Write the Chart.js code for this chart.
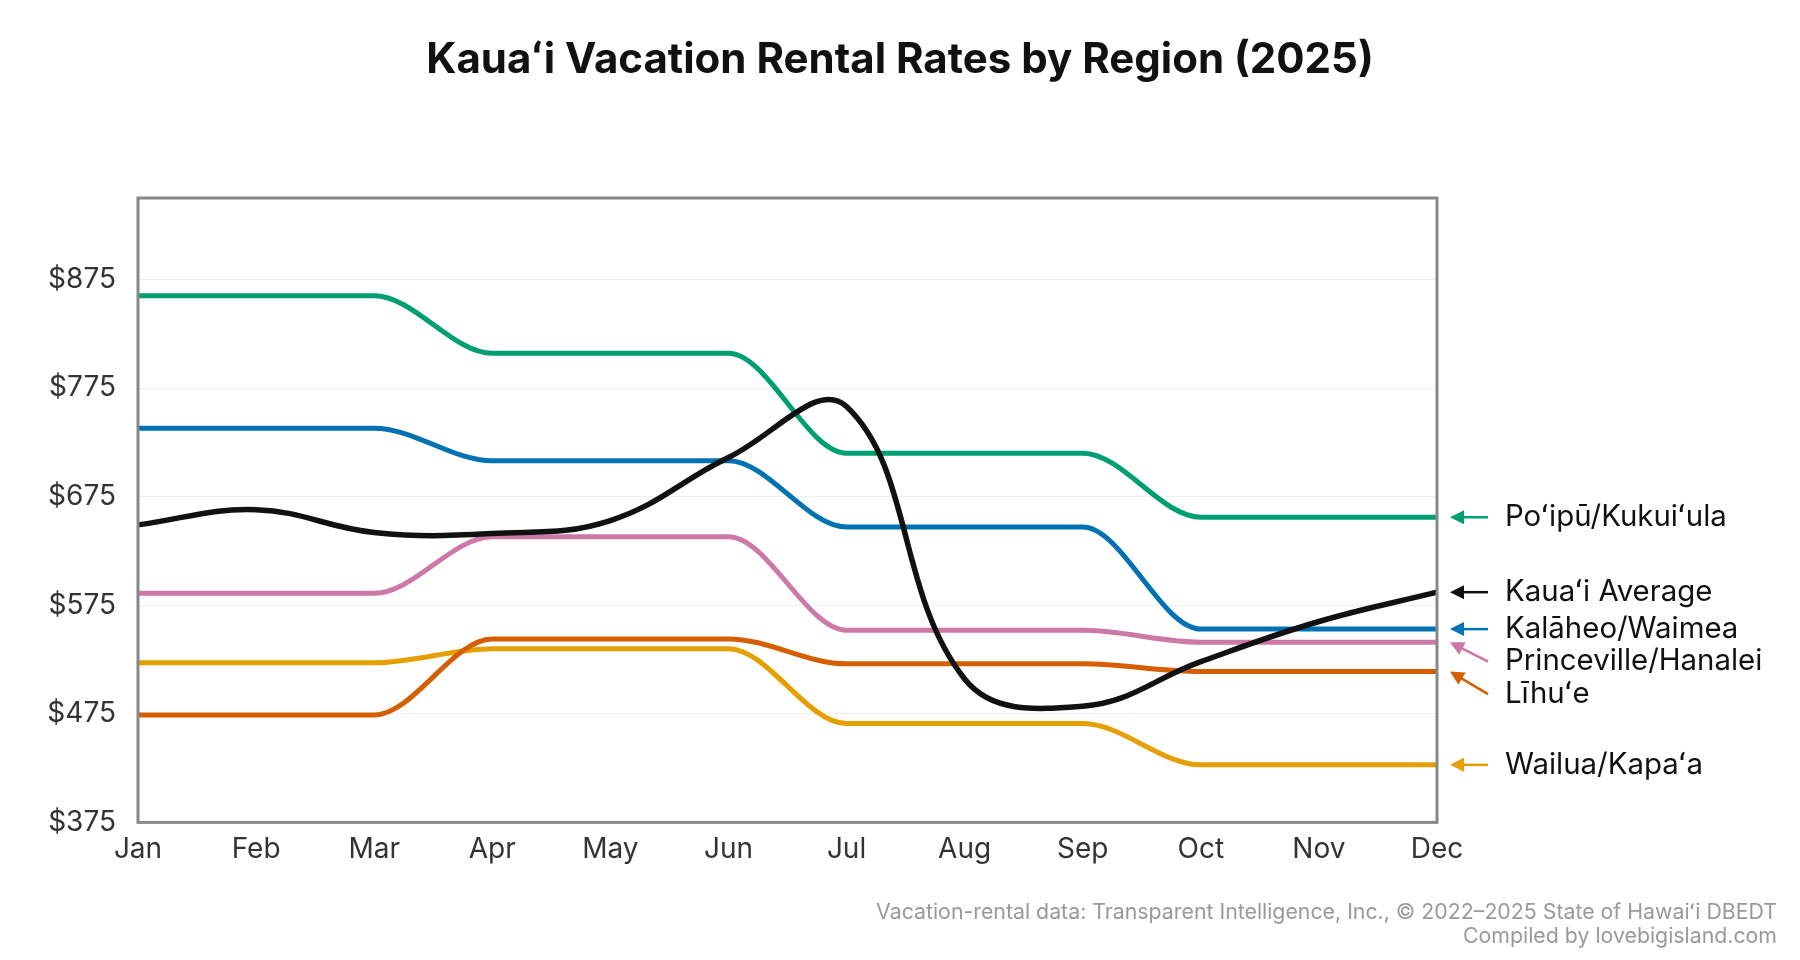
<!DOCTYPE html>
<html>
<head>
<meta charset="utf-8">
<script src="https://cdn.jsdelivr.net/npm/chart.js@4"></script>
<style>
  html, body { margin: 0; padding: 0; background: #fff; }
  #wrap { width: 1800px; height: 960px; }
</style>
</head>
<body>
<div id="wrap"><canvas id="rateChart" width="1800" height="960"></canvas></div>
<script>
const months = ['Jan', 'Feb', 'Mar', 'Apr', 'May', 'Jun', 'Jul', 'Aug', 'Sep', 'Oct', 'Nov', 'Dec'];
const yTicks = [375, 475, 575, 675, 775, 875];

const kauaiAverage = [649, 663, 642, 641, 653, 711, 758, 507, 482, 523, 560, 587];
const poipu       = [860, 860, 860, 807, 807, 807, 715, 715, 715, 656, 656, 656];
const kalaheo     = [738, 738, 738, 708, 708, 708, 647, 647, 647, 553, 553, 553];
const princeville = [586, 586, 586, 638, 638, 638, 552, 552, 552, 541, 541, 541];
const lihue       = [474, 474, 474, 544, 544, 544, 521, 521, 521, 514, 514, 514];
const wailua      = [522, 522, 522, 535, 535, 535, 466, 466, 466, 428, 428, 428];

const titleText = 'Kauaʻi Vacation Rental Rates by Region (2025)';
const footerLines = [
  'Vacation-rental data: Transparent Intelligence, Inc., © 2022–2025 State of Hawaiʻi DBEDT',
  'Compiled by lovebigisland.com'
];

Chart.defaults.font.family = 'Inter, "Noto Sans", sans-serif';

function series(label, data, color, avg) {
  return {
    label, data,
    borderColor: color,
    backgroundColor: color,
    borderWidth: avg ? 5.5 : 5,
    pointRadius: 0,
    pointHoverRadius: 0,
    fill: false,
    tension: 0.4,
    cubicInterpolationMode: avg ? 'default' : 'monotone'
  };
}

// title, footer, frame and the end-of-line labels with arrows
const decorPlugin = {
  id: 'decor',
  afterDraw(chart) {
    const { ctx, chartArea: a } = chart;
    const y = chart.scales.y;
    ctx.save();

    ctx.strokeStyle = '#888';
    ctx.lineWidth = 3;
    ctx.strokeRect(a.left, a.top, a.right - a.left, a.bottom - a.top);

    ctx.fillStyle = '#111';
    ctx.font = 'bold 42px Inter, sans-serif';
    ctx.textAlign = 'center';
    ctx.textBaseline = 'middle';
    ctx.fillText(titleText, chart.width / 2, 60);

    ctx.fillStyle = '#999';
    ctx.font = '21.3px Inter, sans-serif';
    ctx.textAlign = 'right';
    ctx.fillText(footerLines[0], chart.width - 23, 913);
    ctx.fillText(footerLines[1], chart.width - 23, 937);

    const items = chart.data.datasets.map(ds => {
      const py = y.getPixelForValue(ds.data[ds.data.length - 1]);
      return { label: ds.label, color: ds.borderColor, py, ly: py };
    }).sort((p, q) => p.py - q.py);
    for (let i = 1; i < items.length; i++) {
      items[i].ly = Math.max(items[i].py, items[i - 1].ly + 32.5);
    }

    ctx.font = '29.4px Inter, sans-serif';
    ctx.textAlign = 'left';
    items.forEach(it => {
      const tipX = a.right + 13, tailX = a.right + 51;
      const ang = Math.atan2(it.py - it.ly, tipX - tailX);
      ctx.strokeStyle = it.color;
      ctx.fillStyle = it.color;
      ctx.lineWidth = 2.5;
      ctx.beginPath();
      ctx.moveTo(tailX, it.ly);
      ctx.lineTo(tipX - 8 * Math.cos(ang), it.py - 8 * Math.sin(ang));
      ctx.stroke();
      ctx.beginPath();
      ctx.moveTo(tipX, it.py);
      ctx.lineTo(tipX - 14 * Math.cos(ang) - 7 * Math.sin(ang), it.py - 14 * Math.sin(ang) + 7 * Math.cos(ang));
      ctx.lineTo(tipX - 14 * Math.cos(ang) + 7 * Math.sin(ang), it.py - 14 * Math.sin(ang) - 7 * Math.cos(ang));
      ctx.closePath();
      ctx.fill();
      ctx.fillStyle = '#111';
      ctx.fillText(it.label, a.right + 68, it.ly);
    });
    ctx.restore();
  }
};

new Chart(document.getElementById('rateChart'), {
  type: 'line',
  data: {
    labels: months,
    datasets: [
      series('Kauaʻi Average', kauaiAverage, '#111111', true),
      series('Poʻipū/Kukuiʻula', poipu, '#009E73'),
      series('Kalāheo/Waimea', kalaheo, '#0072B2'),
      series('Princeville/Hanalei', princeville, '#CC79A7'),
      series('Līhuʻe', lihue, '#D55E00'),
      series('Wailua/Kapaʻa', wailua, '#E69F00')
    ]
  },
  options: {
    responsive: false,
    animation: false,
    layout: { padding: { top: 198, right: 363, bottom: 84, left: 0 } },
    plugins: {
      legend: { display: false },
      tooltip: { enabled: false }
    },
    scales: {
      x: {
        offset: false,
        grid: { display: false, drawTicks: false },
        border: { display: false },
        ticks: { color: '#333', font: { size: 28 }, padding: 10, maxRotation: 0, autoSkip: false }
      },
      y: {
        min: 375,
        max: 950,
        afterBuildTicks: scale => { scale.ticks = yTicks.map(v => ({ value: v })); },
        afterFit: scale => { scale.width = 138; },
        grid: { color: '#f0f0f0', lineWidth: 1, drawTicks: false },
        border: { display: false },
        ticks: { color: '#333', font: { size: 28 }, padding: 22, callback: v => '$' + v }
      }
    }
  },
  plugins: [decorPlugin]
});
</script>
</body>
</html>
